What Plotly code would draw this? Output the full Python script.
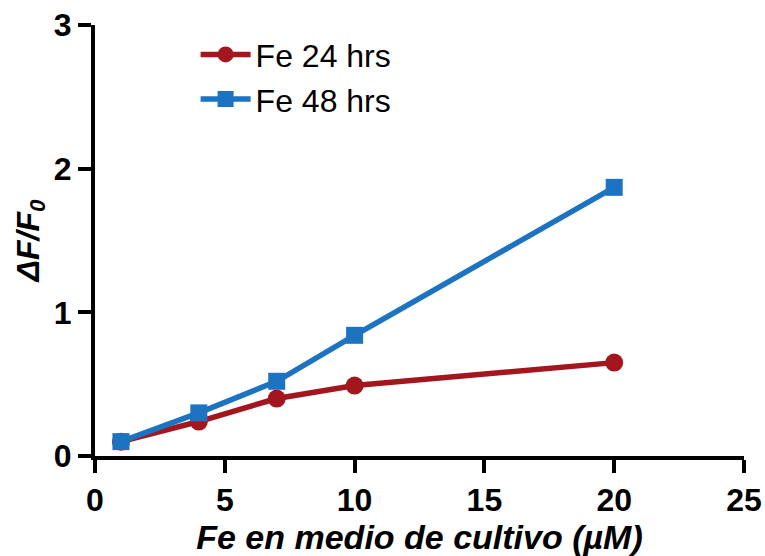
import plotly.graph_objects as go

# Iron concentration in culture medium (µM)
fe_conc = [1, 4, 7, 10, 20]
# Relative fluorescence change ΔF/F0
fe_24h = [0.10, 0.24, 0.40, 0.49, 0.65]
fe_48h = [0.10, 0.30, 0.52, 0.84, 1.87]

series_names = ["Fe 24 hrs", "Fe 48 hrs"]
x_ticks = [0, 5, 10, 15, 20, 25]
y_ticks = [0, 1, 2, 3]

RED = "#A3161E"
BLUE = "#1C73C2"
FONT = "Liberation Sans, Arial, sans-serif"

fig = go.Figure()
fig.add_trace(go.Scatter(
    x=fe_conc, y=fe_24h, name=series_names[0], mode="lines+markers",
    legendgroup="g24",
    line=dict(color=RED, width=5.5),
    marker=dict(symbol="circle", size=18, color=RED),
    cliponaxis=False,
))
fig.add_trace(go.Scatter(
    x=fe_conc, y=fe_48h, name=series_names[1], mode="lines+markers",
    legendgroup="g48",
    line=dict(color=BLUE, width=5.5),
    marker=dict(symbol="square", size=17, color=BLUE),
    cliponaxis=False,
))

axis_common = dict(
    showgrid=False, zeroline=False, automargin=False,
    showline=True, linecolor="black", linewidth=4,
    ticks="outside", ticklen=13, tickwidth=4, tickcolor="black",
    tickfont=dict(family=FONT, size=32, color="black", weight="bold"),
)

fig.update_layout(
    width=765, height=556,
    margin=dict(l=95, r=21, t=25, b=100),
    paper_bgcolor="white", plot_bgcolor="white",
    showlegend=True,
    legend=dict(
        x=0.155, y=0.995, xanchor="left", yanchor="top",
        font=dict(family=FONT, size=32, color="black"),
        bgcolor="rgba(0,0,0,0)", itemwidth=50, tracegroupgap=0,
    ),
    xaxis=dict(
        range=[0, 25], tickvals=x_ticks, ticktext=[str(v) for v in x_ticks],
        title=dict(
            text="<i>Fe en medio de cultivo (µM)</i>",
            font=dict(family=FONT, size=34, color="black", weight="bold"),
            standoff=8,
        ),
        **axis_common,
    ),
    yaxis=dict(
        range=[0, 3], tickvals=y_ticks, ticktext=[str(v) for v in y_ticks],
        title=dict(
            text="<i>ΔF/F<sub>0</sub></i>",
            font=dict(family=FONT, size=32, color="black", weight="bold"),
            standoff=6,
        ),
        **axis_common,
    ),
)

fig.write_html("out.html")
